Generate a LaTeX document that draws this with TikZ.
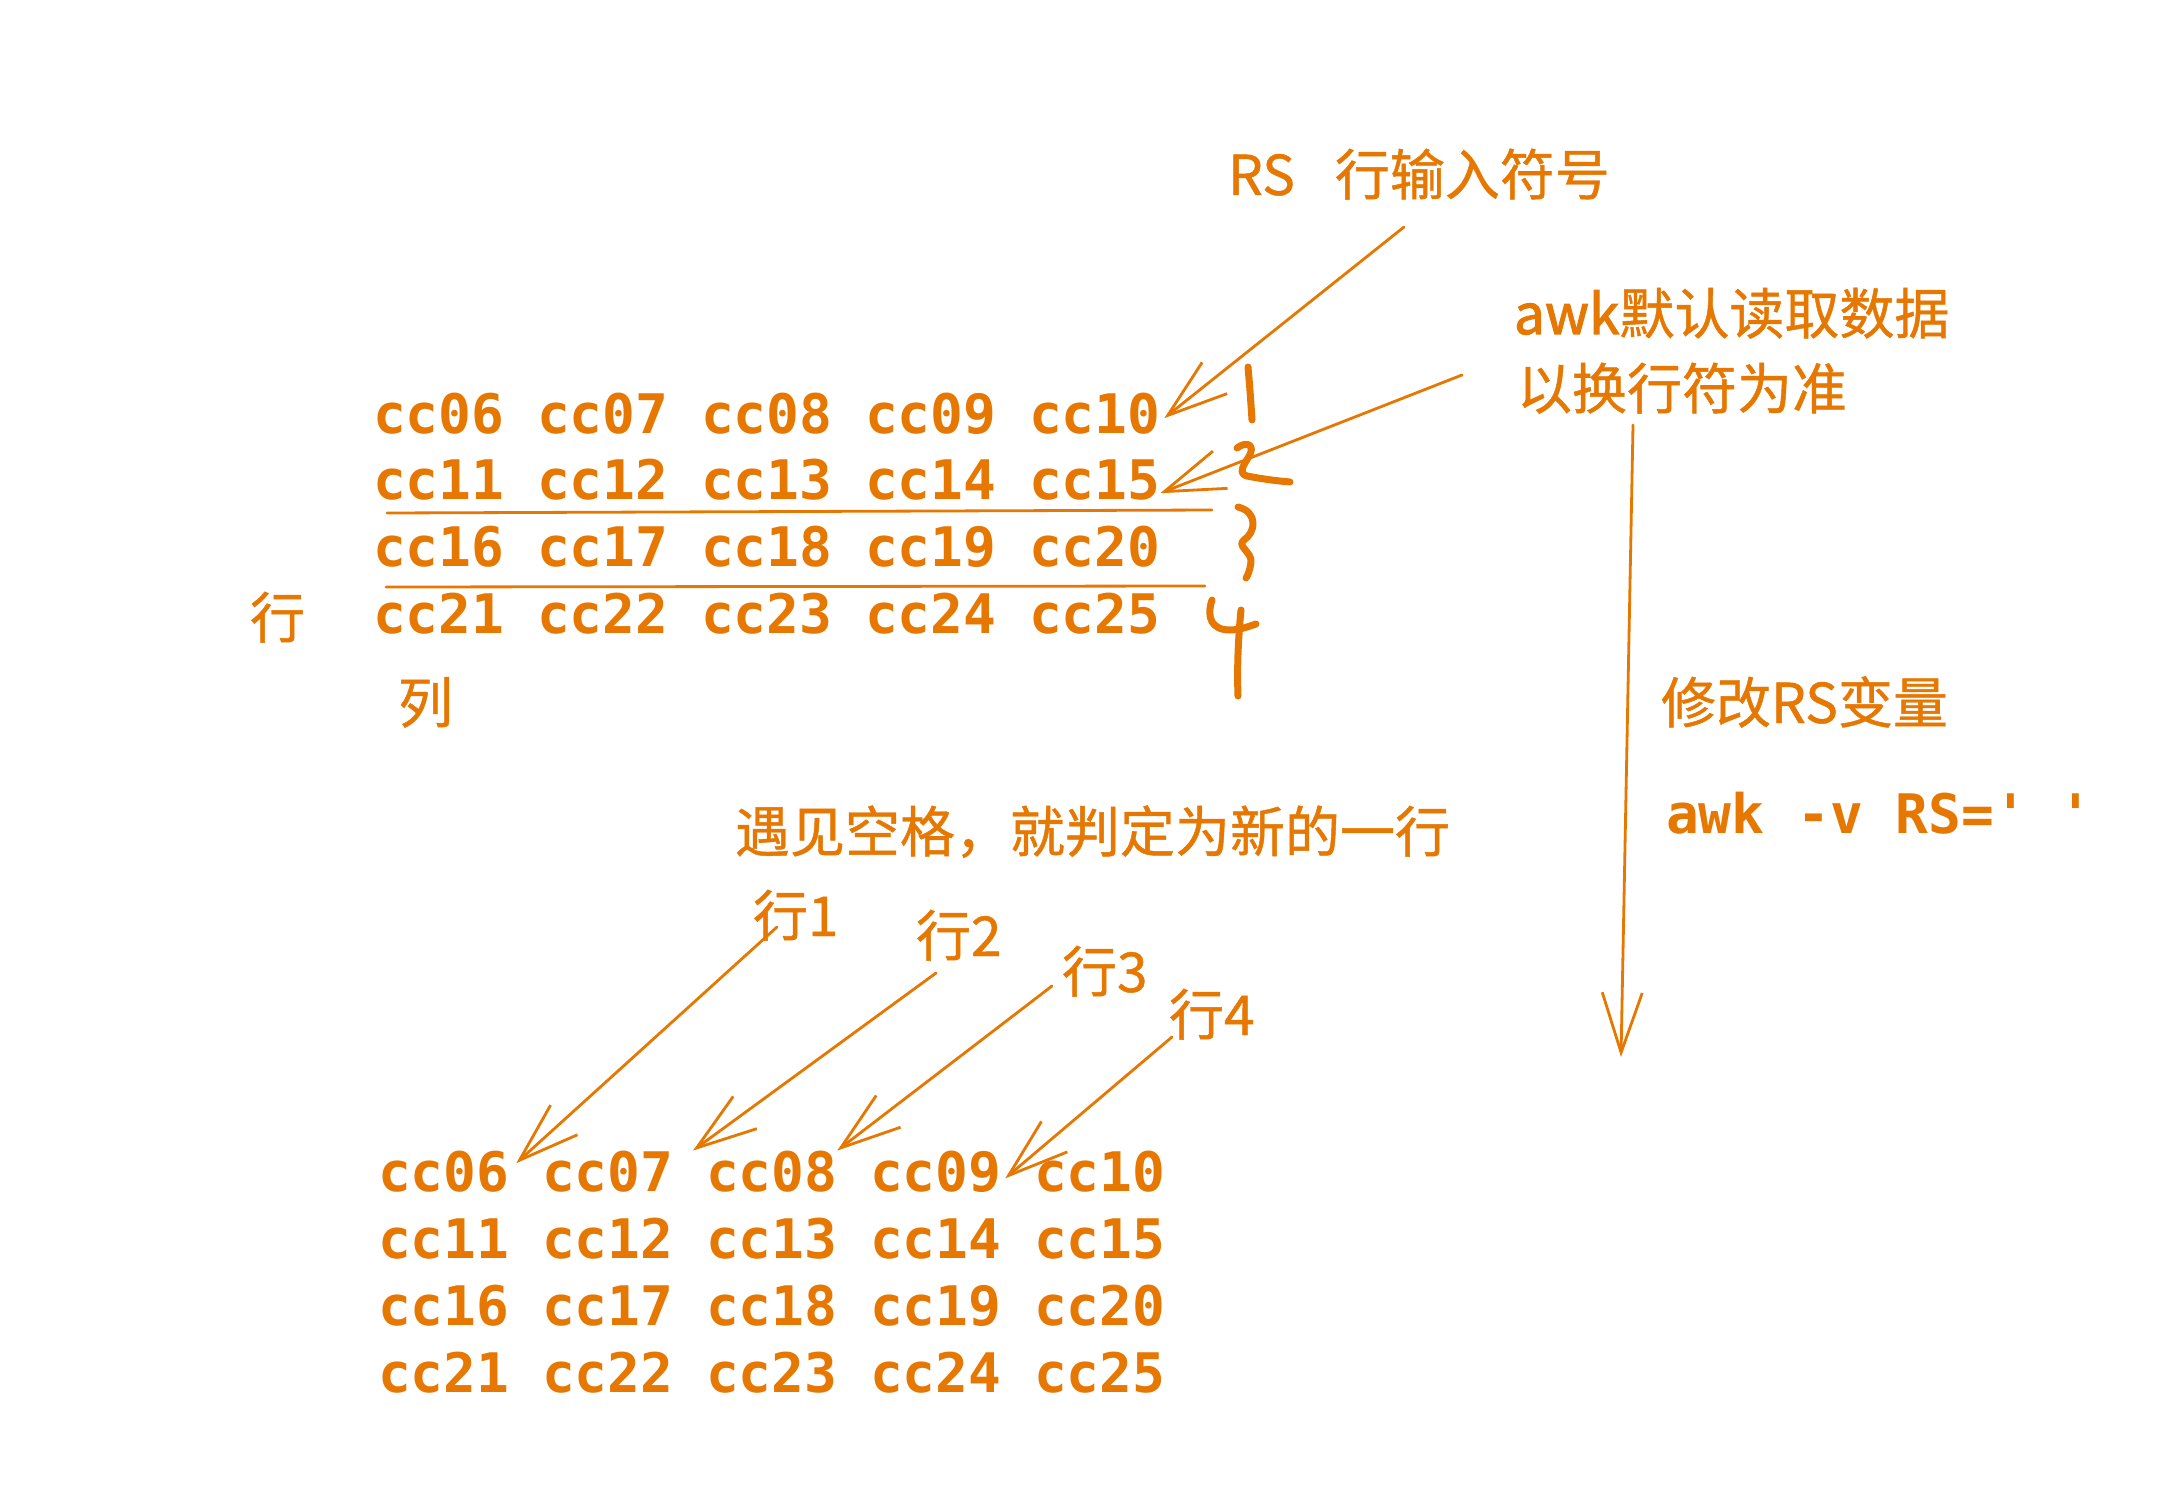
\documentclass[tikz,border=0pt]{standalone}
\usepackage{fontspec}
\newfontfamily\mycjk[FakeBold=0.8]{Noto Sans CJK SC}
\newfontfamily\mycjkb[FakeBold=2]{Noto Sans CJK SC}
\newfontfamily\mymono{DejaVu Sans Mono}
\usetikzlibrary{arrows.meta,calc}
\definecolor{exorange}{HTML}{E67700}
\begin{document}
\begin{tikzpicture}[x=1pt,y=-1pt,
  every node/.style={inner sep=0pt,outer sep=0pt,text=exorange},
  cjk/.style={font=\mycjk\fontsize{55}{60}\selectfont,anchor=base west},
  mono/.style={font=\mymono\bfseries\fontsize{54.5}{60}\selectfont,anchor=base west},
  arr/.style={draw=exorange,line width=2.8pt,line cap=round,-{Straight Barb[length=60pt,width=40pt]}},
  hand/.style={draw=exorange,line width=7pt,line cap=round,line join=round},
  rulestroke/.style={draw=exorange,line width=2.8pt,line cap=round}]
\useasboundingbox[fill=white] (0,0) rectangle (2168,1506);

% labels
\node[cjk] (rs) at (1228,195) {RS\hspace{40pt}行输入符号};
\node[cjk] (awkA) at (1514,334) {{\mycjkb\fontsize{55}{60}\selectfont awk}默认读取数据};
\node[cjk] (awkB) at (1517,409) {以换行符为准};
\node[cjk] (mod) at (1661,723) {修改RS变量};
\node[mono] (cmd) at (1666,833) {awk -v RS=\textquotesingle{} \textquotesingle};
\node[cjk] (space) at (735,852) {遇见空格，就判定为新的一行};
\node[cjk] (hang) at (250,638) {行};
\node[cjk] (lie) at (398,723) {列};
\node[cjk] (l1) at (753,936) {行1};
\node[cjk] (l2) at (916,956) {行2};
\node[cjk] (l3) at (1062,992) {行3};
\node[cjk] (l4) at (1169,1035) {行4};

% grids
\foreach \r in {0,...,3}{
  \foreach \c in {0,...,4}{
    \pgfmathtruncatemacro\nn{6+5*\r+\c}
    \pgfmathsetmacro\ty{433+66.7*\r}
    \pgfmathsetmacro\by{1191+67*\r}
    \node[mono] (t\nn) at (373+164*\c,\ty) {cc\ifnum\nn<10 0\fi\nn};
    \node[mono] (b\nn) at (378+164*\c,\by) {cc\ifnum\nn<10 0\fi\nn};
  }
}

% underlines
\draw[rulestroke] (387,513) -- (1212,510);
\draw[rulestroke] (386,587) -- (1205,586);

% hand drawn numbers
\draw[hand] (1248,367) .. controls (1250,390) .. (1252,420);
\draw[hand] (1237,448) .. controls (1246,441) and (1257,444) .. (1248,458)
  .. controls (1242,467) and (1239,474) .. (1247,476)
  .. controls (1262,479) and (1278,481) .. (1290,482);
\draw[hand] (1238,507) .. controls (1258,512) and (1256,532) .. (1244,540)
  .. controls (1236,546) and (1252,552) .. (1251,562)
  .. controls (1250,570) and (1248,575) .. (1246,578);
\draw[hand] (1212,600) .. controls (1206,618) and (1212,630) .. (1230,630)
  .. controls (1240,630) and (1250,626) .. (1256,624);
\draw[hand] (1241,610) .. controls (1238,640) and (1237,670) .. (1238,696);

% arrows
\coordinate (rsS) at (1404,227);
\draw[arr] (rsS) -- ([shift={(4pt,-5pt)}]t10.east);
\coordinate (awS) at (1462,375);
\draw[arr] (awS) -- ([yshift=-13pt]t15.east);
\coordinate (vS) at (1633,425);
\coordinate (vE) at (1621,1057);
\draw[arr] (vS) -- (vE);
\coordinate (s1) at (777,927);
\draw[arr] (s1) -- ([shift={(7pt,8pt)}]b6.east);
\coordinate (s2) at (936,973);
\draw[arr] (s2) -- ([xshift=-13pt]b8.north west);
\coordinate (s3) at (1052,986);
\draw[arr] (s3) -- (b8.north east);
\coordinate (s4) at (1172,1037);
\draw[arr] (s4) -- ([shift={(4pt,-7pt)}]b9.east);
\end{tikzpicture}
\end{document}
